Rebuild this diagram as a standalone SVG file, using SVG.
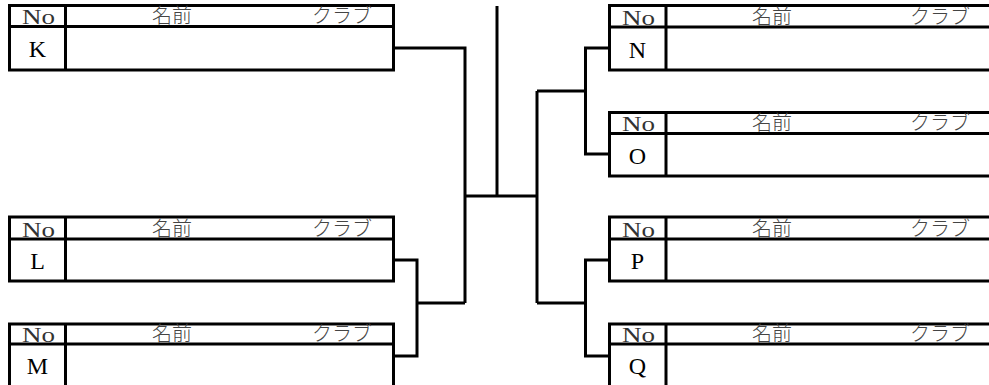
<svg xmlns="http://www.w3.org/2000/svg" width="989" height="385" viewBox="0 0 989 385">
<style>
.box{fill:none;stroke:#000;stroke-width:3}
.ln{fill:none;stroke:#000;stroke-width:3}
.no{font-family:"Liberation Serif",serif;font-size:22px;fill:#333;text-anchor:middle}
.hd{font-family:"Noto Sans CJK JP",sans-serif;font-size:20px;font-weight:300;fill:#444;text-anchor:middle}
.id{font-family:"Liberation Serif",serif;font-size:24px;fill:#000;text-anchor:middle}
</style>
<rect width="989" height="385" fill="#fff"/>
<g id="conn" class="ln">
<polyline points="393.5,48 465,48 465,303"/>
<polyline points="393.5,260 417,260 417,356 393.5,356"/>
<line x1="417" y1="303" x2="465" y2="303"/>
<line x1="465" y1="196" x2="537" y2="196"/>
<line x1="497" y1="6" x2="497" y2="196"/>
<line x1="537" y1="91" x2="537" y2="303"/>
<line x1="537" y1="91" x2="585.5" y2="91"/>
<polyline points="609.5,48 585.5,48 585.5,154 609.5,154"/>
<line x1="537" y1="303" x2="585.5" y2="303"/>
<polyline points="609.5,260 585.5,260 585.5,356 609.5,356"/>
</g>
<g id="K">
<rect class="box" x="9.5" y="5.5" width="384" height="64.5"/>
<line class="ln" x1="9.5" y1="26.5" x2="393.5" y2="26.5"/>
<line class="ln" x1="65.5" y1="5.5" x2="65.5" y2="70"/>
<text class="no" x="38.5" y="24" textLength="33" lengthAdjust="spacingAndGlyphs">No</text>
<text class="hd" x="172" y="23">名前</text>
<text class="hd" x="342" y="23">クラブ</text>
<text class="id" x="37.5" y="57">K</text>
</g>
<g id="L">
<rect class="box" x="9.5" y="217" width="384" height="64"/>
<line class="ln" x1="9.5" y1="239" x2="393.5" y2="239"/>
<line class="ln" x1="65.5" y1="217" x2="65.5" y2="281"/>
<text class="no" x="38.5" y="236.5" textLength="33" lengthAdjust="spacingAndGlyphs">No</text>
<text class="hd" x="172" y="235.5">名前</text>
<text class="hd" x="342" y="235.5">クラブ</text>
<text class="id" x="37.5" y="269">L</text>
</g>
<g id="M">
<rect class="box" x="9.5" y="324" width="384" height="64"/>
<line class="ln" x1="9.5" y1="344" x2="393.5" y2="344"/>
<line class="ln" x1="65.5" y1="324" x2="65.5" y2="388"/>
<text class="no" x="38.5" y="341.5" textLength="33" lengthAdjust="spacingAndGlyphs">No</text>
<text class="hd" x="172" y="340.5">名前</text>
<text class="hd" x="342" y="340.5">クラブ</text>
<text class="id" x="37.5" y="374">M</text>
</g>
<g id="N">
<rect class="box" x="609.5" y="5.5" width="400" height="64.5"/>
<line class="ln" x1="609.5" y1="27" x2="1010" y2="27"/>
<line class="ln" x1="666" y1="5.5" x2="666" y2="70"/>
<text class="no" x="638.5" y="24.5" textLength="33" lengthAdjust="spacingAndGlyphs">No</text>
<text class="hd" x="772" y="23.5">名前</text>
<text class="hd" x="940" y="23.5">クラブ</text>
<text class="id" x="637.5" y="58">N</text>
</g>
<g id="O">
<rect class="box" x="609.5" y="112.5" width="400" height="63.5"/>
<line class="ln" x1="609.5" y1="133.5" x2="1010" y2="133.5"/>
<line class="ln" x1="666" y1="112.5" x2="666" y2="176"/>
<text class="no" x="638.5" y="131" textLength="33" lengthAdjust="spacingAndGlyphs">No</text>
<text class="hd" x="772" y="130">名前</text>
<text class="hd" x="940" y="130">クラブ</text>
<text class="id" x="637.5" y="164">O</text>
</g>
<g id="P">
<rect class="box" x="609.5" y="217" width="400" height="64"/>
<line class="ln" x1="609.5" y1="239" x2="1010" y2="239"/>
<line class="ln" x1="666" y1="217" x2="666" y2="281"/>
<text class="no" x="638.5" y="236.5" textLength="33" lengthAdjust="spacingAndGlyphs">No</text>
<text class="hd" x="772" y="235.5">名前</text>
<text class="hd" x="940" y="235.5">クラブ</text>
<text class="id" x="637.5" y="269">P</text>
</g>
<g id="Q">
<rect class="box" x="609.5" y="324" width="400" height="64"/>
<line class="ln" x1="609.5" y1="344" x2="1010" y2="344"/>
<line class="ln" x1="666" y1="324" x2="666" y2="388"/>
<text class="no" x="638.5" y="341.5" textLength="33" lengthAdjust="spacingAndGlyphs">No</text>
<text class="hd" x="772" y="340.5">名前</text>
<text class="hd" x="940" y="340.5">クラブ</text>
<text class="id" x="637.5" y="374">Q</text>
</g>
</svg>
